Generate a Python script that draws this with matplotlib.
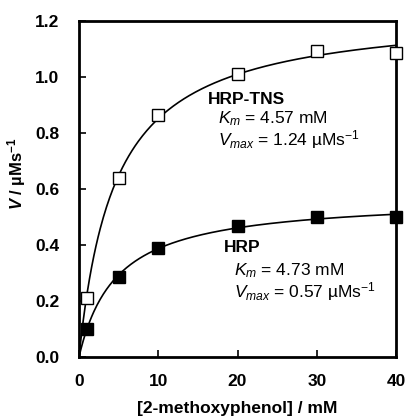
import matplotlib
matplotlib.use("Agg")
import matplotlib.pyplot as plt
import numpy as np

plt.rcParams["font.family"] = ["Liberation Sans", "DejaVu Sans"]
plt.rcParams["mathtext.fontset"] = "custom"
plt.rcParams["mathtext.rm"] = "Liberation Sans"
plt.rcParams["mathtext.it"] = "Liberation Sans:italic"
plt.rcParams["mathtext.bf"] = "Liberation Sans:bold"
plt.rcParams["mathtext.bfit"] = "Liberation Sans:italic:bold"

# measured rates
conc = [1, 5, 10, 20, 30, 40]
v_tns = [0.21, 0.64, 0.865, 1.01, 1.093, 1.085]
v_hrp = [0.10, 0.287, 0.39, 0.467, 0.50, 0.50]

# fitted Michaelis-Menten parameters shown in the chart
km_tns, vmax_tns = 4.57, 1.24
km_hrp, vmax_hrp = 4.73, 0.57

s = np.linspace(0, 40, 300)

fig = plt.figure(figsize=(4.05, 4.18), dpi=100)
ax = fig.add_axes([0.195, 0.146, 0.783, 0.804])

ax.plot(s, vmax_tns * s / (km_tns + s), color="black", lw=1.2, zorder=2)
ax.plot(s, vmax_hrp * s / (km_hrp + s), color="black", lw=1.2, zorder=2)
ax.plot(conc, v_tns, ls="none", marker="s", ms=8.3, mfc="white", mec="black",
        mew=1.0, clip_on=False, zorder=3)
ax.plot(conc, v_hrp, ls="none", marker="s", ms=8.3, mfc="black", mec="black",
        clip_on=False, zorder=3)

ax.set_xlim(0, 40)
ax.set_ylim(0, 1.2)
ax.set_xticks([0, 10, 20, 30, 40])
ax.set_yticks(np.arange(0, 1.21, 0.2))
ax.set_yticklabels([f"{t:.1f}" for t in np.arange(0, 1.21, 0.2)])
ax.tick_params(direction="in", length=5, width=1.2, labelsize=12.5)
ax.tick_params(axis="y", pad=14)
ax.tick_params(axis="x", pad=12)
for lab in ax.get_xticklabels() + ax.get_yticklabels():
    lab.set_fontweight("bold")
for sp in ax.spines.values():
    sp.set_linewidth(2)

ax.set_xlabel("[2-methoxyphenol] / mM", fontsize=12.5, fontweight="bold",
              labelpad=9)
ax.set_ylabel(r"$\bfit{V}$ / µMs$^{\mathbf{-1}}$", fontsize=12,
              fontweight="bold")
ax.yaxis.set_label_coords(-0.16, 0.545)

ax.text(16.3, 0.92, "HRP-TNS", fontsize=12.5, fontweight="bold", va="center")
ax.text(17.5, 0.85, r"$K_m$ = 4.57 mM", fontsize=12.5, va="center")
ax.text(17.5, 0.775, r"$V_{max}$ = 1.24 µMs$^{-1}$", fontsize=12.5, va="center")

ax.text(18.3, 0.39, "HRP", fontsize=12.5, fontweight="bold", va="center")
ax.text(19.5, 0.31, r"$K_m$ = 4.73 mM", fontsize=12.5, va="center")
ax.text(19.5, 0.235, r"$V_{max}$ = 0.57 µMs$^{-1}$", fontsize=12.5, va="center")

fig.savefig("out.png", dpi=100, facecolor="white")
